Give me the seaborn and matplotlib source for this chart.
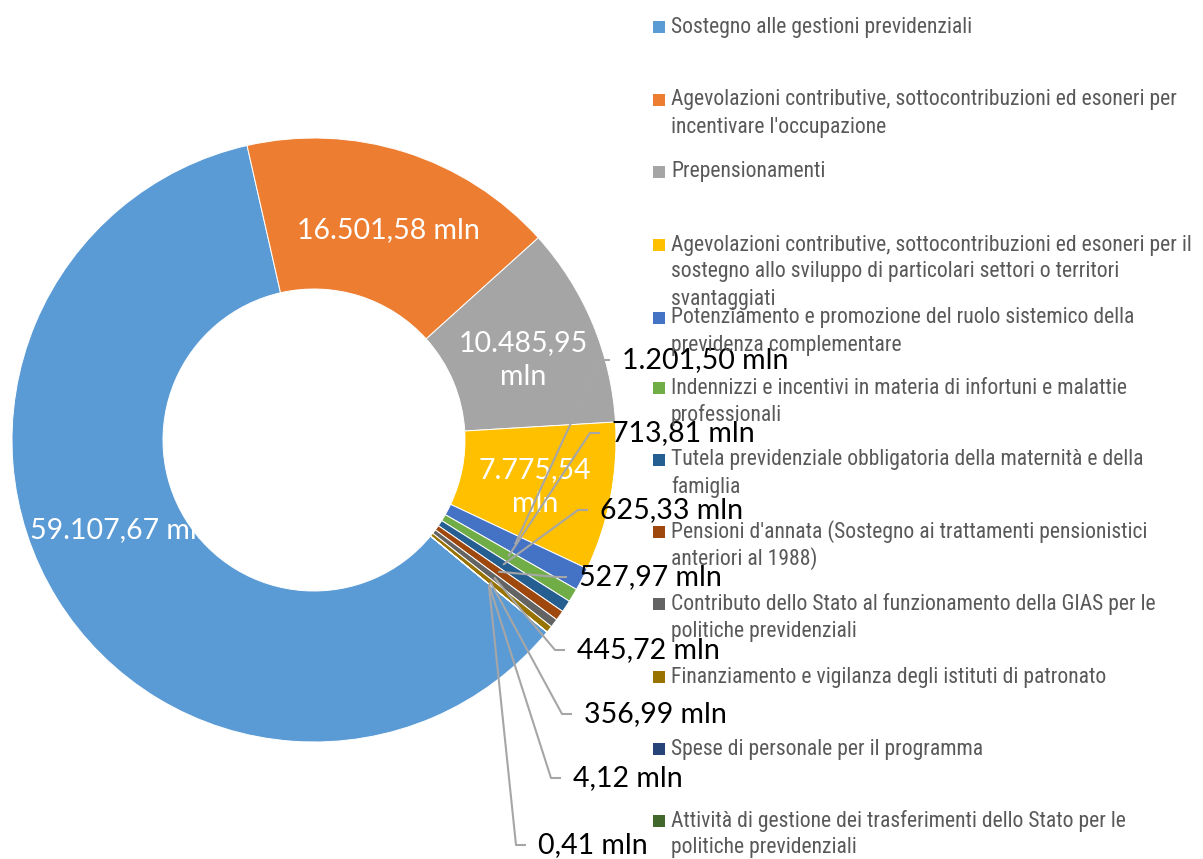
import matplotlib
matplotlib.use("Agg")
import numpy as np
import matplotlib.pyplot as plt
import seaborn as sns
from matplotlib import font_manager
from matplotlib.patches import Rectangle

# ---------------- data ----------------
categories = [
    "Sostegno alle gestioni previdenziali",
    "Agevolazioni contributive, sottocontribuzioni ed esoneri per\nincentivare l'occupazione",
    "Prepensionamenti",
    "Agevolazioni contributive, sottocontribuzioni ed esoneri per il\nsostegno allo sviluppo di particolari settori o territori\nsvantaggiati",
    "Potenziamento e promozione del ruolo sistemico della\nprevidenza complementare",
    "Indennizzi e incentivi in materia di infortuni e malattie\nprofessionali",
    "Tutela previdenziale obbligatoria della maternità e della\nfamiglia",
    "Pensioni d'annata (Sostegno ai trattamenti pensionistici\nanteriori al 1988)",
    "Contributo dello Stato al funzionamento della GIAS per le\npolitiche previdenziali",
    "Finanziamento e vigilanza degli istituti di patronato",
    "Spese di personale per il programma",
    "Attività di gestione dei trasferimenti dello Stato per le\npolitiche previdenziali",
]
values = [59107.67, 16501.58, 10485.95, 7775.54, 1201.50, 713.81,
          625.33, 527.97, 445.72, 356.99, 4.12, 0.41]
colors = ["#5B9BD5", "#ED7D31", "#A5A5A5", "#FFC000", "#4472C4", "#70AD47",
          "#255E91", "#9E480E", "#636363", "#997300", "#264478", "#43682B"]

# ---------------- style ----------------
sns.set_theme(style="white")
available = {f.name for f in font_manager.fontManager.ttflist}
LEG_FONT, LEG_SIZE = "Liberation Sans", 14.2
for cand, size in [("Liberation Sans Narrow", 17.0), ("Roboto Condensed", 15.6),
                   ("Open Sans Condensed", 15.6)]:
    if cand in available:
        LEG_FONT, LEG_SIZE = cand, size
        break
LAB_FONT = "Lato" if "Lato" in available else "DejaVu Sans"
plt.rcParams["font.family"] = [LEG_FONT, "DejaVu Sans"]


def fmt_it(v):
    s = f"{v:,.2f}"
    s = s.replace(",", "X").replace(".", ",").replace("X", ".")
    return s + " mln"


W, H = 1203, 859
fig = plt.figure(figsize=(W / 100, H / 100), dpi=100)
ax = fig.add_axes([0, 0, 1, 1])

CX, CY, R = 314, 440, 302   # donut centre / radius in pixels


def P(px, py):
    return ((px - CX) / R, (CY - py) / R)


wedges, _ = ax.pie(values, colors=sns.color_palette(colors), startangle=-39.5,
                   counterclock=False, radius=1.0,
                   wedgeprops=dict(width=0.5, edgecolor="white", linewidth=0.7))
ax.set_xlim((0 - CX) / R, (W - CX) / R)
ax.set_ylim((CY - H) / R, CY / R)
ax.set_aspect("equal", adjustable="datalim")
ax.axis("off")

# ---------------- inside labels (white) ----------------
inside = {0: (30, 530, "left"), 1: (388, 230, "center"),
          2: (523, 360, "center"), 3: (535, 487, "center")}
two_line = {2, 3}
for i, (px, py, ha) in inside.items():
    txt = fmt_it(values[i])
    if i in two_line:
        txt = txt.replace(" mln", "\nmln")
    x, y = P(px, py)
    ax.text(x, y, txt, color="white", fontsize=20.5, family=LAB_FONT,
            ha=ha, va="center", linespacing=1.35)

# ---------------- outside labels with leader lines ----------------
outside = {4: (622, 360), 5: (612, 433), 6: (600, 510), 7: (579, 577),
           8: (577, 650), 9: (584, 714), 10: (573, 778), 11: (538, 845)}
for i, (px, py) in outside.items():
    w = wedges[i]
    mid = np.deg2rad((w.theta1 + w.theta2) / 2)
    rr = w.r - w.width / 2
    ex, ey = rr * np.cos(mid), rr * np.sin(mid)
    x_el, y_el = P(px - 22, py)
    x_end, _ = P(px - 12, py)
    ax.plot([ex, x_el, x_end], [ey, y_el, y_el], color="#A6A6A6", lw=1.5,
            solid_capstyle="butt", zorder=3)
    x, y = P(px, py)
    ax.text(x, y, fmt_it(values[i]), color="black", fontsize=20.5,
            family=LAB_FONT, ha="left", va="center", zorder=4)

# ---------------- legend (drawn manually, fixed slots) ----------------
leg_y = [27, 100, 172, 245, 318, 388, 460, 532, 604, 677, 749, 821]
line_h = 27
for cat, col, y0 in zip(categories, colors, leg_y):
    x0, y1 = P(653, y0 - 6)
    ax.add_patch(Rectangle((x0, y1 - 12 / R), 12 / R, 12 / R, facecolor=col,
                           edgecolor="none", zorder=5))
    for k, line in enumerate(cat.split("\n")):
        x, y = P(671, y0 + k * line_h)
        ax.text(x, y, line, color="#595959", fontsize=LEG_SIZE,
                family=[LEG_FONT, "DejaVu Sans"], ha="left", va="center",
                zorder=5)

fig.savefig("out.png", dpi=100, facecolor="white")
